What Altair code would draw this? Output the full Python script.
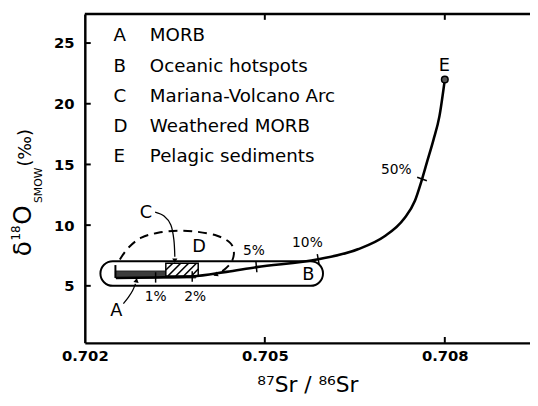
import altair as alt
import pandas as pd

FONT = "DejaVu Sans"

# ---------------- data ----------------
x_ticks = [0.702, 0.705, 0.708]
x_inner_ticks = [0.705, 0.708]
y_ticks = [5, 10, 15, 20, 25]

# mixing curve from A/B towards E (pelagic sediments)
curve_sr = [0.70252, 0.70318, 0.70379, 0.70436, 0.70486, 0.70589, 0.70655,
            0.70699, 0.70732, 0.70750, 0.70761, 0.70771, 0.70781, 0.70791, 0.70800]
curve_o = [5.65, 5.69, 5.77, 6.15, 6.54, 7.19, 8.01, 9.06, 10.52, 11.98,
           13.61, 15.31, 17.01, 18.96, 22.0]

# percentage marks along the curve
pct_text = ["1%", "2%", "5%", "10%", "50%"]
pct_sr = [0.70318, 0.70379, 0.70486, 0.70589, 0.70762]
pct_o = [5.69, 5.77, 6.54, 7.19, 13.80]
pct_angle = [90, 90, 85, 80, 20]
pct_label_sr = [0.70318, 0.70384, 0.70482, 0.70571, 0.70719]
pct_label_o = [4.11, 4.11, 7.85, 8.49, 14.50]

# field B (oceanic hotspots), rounded box
b_sr = [0.70226, 0.70597]
b_o = [5.0, 7.03]
# field A (MORB), dark bar
a_sr = [0.70251, 0.70385]
a_o = [5.65, 6.22]
a_edge_o = [5.65, 6.71]
# field C (Mariana arc), hatched box
c_sr = [0.70335, 0.70389]
c_o = [5.81, 6.86]
hatch_sr0 = [0.70335, 0.703385, 0.703516, 0.703648, 0.703779]
hatch_o0 = [6.30, 5.81, 5.81, 5.81, 5.81]
hatch_sr1 = [0.703467, 0.703598, 0.703730, 0.703861, 0.70389]
hatch_o1 = [6.86, 6.86, 6.86, 6.86, 6.38]

# field D (weathered MORB), dashed curve
d_sr = [0.702584, 0.70273, 0.702943, 0.703221, 0.703549, 0.703877, 0.704205,
        0.704418, 0.704484, 0.704451, 0.704336, 0.70421]
d_o = [7.17, 8.16, 8.97, 9.37, 9.54, 9.45, 9.13, 8.56, 7.83, 7.02, 6.38, 5.95]

# pointer arrows for A and C labels
arrow_a_sr = [0.702643, 0.702725, 0.702795, 0.702844]
arrow_a_o = [3.54, 4.05, 4.59, 5.16]
arrow_c_sr = [0.703172, 0.70332, 0.703434, 0.703484, 0.7035]
arrow_c_o = [11.07, 10.75, 10.02, 8.81, 7.40]
head_sr = [0.702858, 0.7035, 0.70419]
head_o = [5.40, 7.12, 5.93]
head_angle = [10, 180, 245]

# end member E
e_sr = [0.70800]
e_o = [22.0]

# field labels
lab_text = ["A", "B", "C", "D", "E"]
lab_sr = [0.702525, 0.705726, 0.703018, 0.703904, 0.707992]
lab_o = [2.90, 5.90, 11.01, 8.17, 23.1]

legend_letters = ["A", "B", "C", "D", "E"]
legend_names = ["MORB", "Oceanic hotspots", "Mariana-Volcano Arc",
                "Weathered MORB", "Pelagic sediments"]

# ---------------- chart ----------------
W, H = 452, 334
sx = alt.Scale(domain=[0.702, 0.70942], nice=False, zero=False)
sy = alt.Scale(domain=[0.3, 27.4], nice=False, zero=False)

xaxis = alt.Axis(values=x_ticks, format=".3f", ticks=False, grid=False,
                 domainColor="black", domainWidth=2.5, labelFlush=False,
                 labelFont=FONT, labelFontSize=15, labelFontWeight="bold",
                 labelColor="black", labelPadding=6,
                 title="⁸⁷Sr / ⁸⁶Sr", titleFont=FONT, titleFontSize=22,
                 titleFontWeight="normal", titleColor="black", titlePadding=11)
yaxis = alt.Axis(values=y_ticks, ticks=False, grid=False,
                 domainColor="black", domainWidth=2.5,
                 labelFont=FONT, labelFontSize=15, labelFontWeight="bold",
                 labelColor="black", labelPadding=11, title="")


def X(f="sr"):
    return alt.X(f"{f}:Q", scale=sx, axis=xaxis)


def Y(f="o"):
    return alt.Y(f"{f}:Q", scale=sy, axis=yaxis)


layers = []

# B rounded box
dfb = pd.DataFrame({"sr": [b_sr[0]], "sr2": [b_sr[1]], "o": [b_o[0]], "o2": [b_o[1]]})
layers.append(alt.Chart(dfb).mark_rect(fill="white", stroke="black", strokeWidth=2,
                                       cornerRadius=12.5).encode(
    x=X(), x2="sr2:Q", y=Y(), y2="o2:Q"))

# A dark bar
dfa = pd.DataFrame({"sr": [a_sr[0]], "sr2": [a_sr[1]], "o": [a_o[0]], "o2": [a_o[1]]})
layers.append(alt.Chart(dfa).mark_rect(fill="#3c3c3c", stroke="#222", strokeWidth=1).encode(
    x=X(), x2="sr2:Q", y=Y(), y2="o2:Q"))
dfae = pd.DataFrame({"sr": [a_sr[0]], "o": [a_edge_o[0]], "o2": [a_edge_o[1]]})
layers.append(alt.Chart(dfae).mark_rule(color="black", strokeWidth=2).encode(
    x=X(), y=Y(), y2="o2:Q"))

# C hatched box
dfc = pd.DataFrame({"sr": [c_sr[0]], "sr2": [c_sr[1]], "o": [c_o[0]], "o2": [c_o[1]]})
layers.append(alt.Chart(dfc).mark_rect(fill="white", stroke="black", strokeWidth=1.5).encode(
    x=X(), x2="sr2:Q", y=Y(), y2="o2:Q"))
dfh = pd.DataFrame({"sr": hatch_sr0, "o": hatch_o0, "sr2": hatch_sr1, "o2": hatch_o1})
layers.append(alt.Chart(dfh).mark_rule(color="black", strokeWidth=1.6).encode(
    x=X(), y=Y(), x2="sr2:Q", y2="o2:Q"))

# D dashed curve
dfd = pd.DataFrame({"sr": d_sr, "o": d_o, "i": list(range(len(d_sr)))})
layers.append(alt.Chart(dfd).mark_line(color="black", strokeWidth=2, strokeDash=[9, 6],
                                       interpolate="cardinal").encode(
    x=X(), y=Y(), order="i:Q"))

# mixing curve
dfm = pd.DataFrame({"sr": curve_sr, "o": curve_o})
layers.append(alt.Chart(dfm).mark_line(color="black", strokeWidth=2.6,
                                       interpolate="monotone").encode(x=X(), y=Y()))

# arrows
dfaa = pd.DataFrame({"sr": arrow_a_sr, "o": arrow_a_o, "i": list(range(len(arrow_a_sr)))})
layers.append(alt.Chart(dfaa).mark_line(color="black", strokeWidth=1.3,
                                        interpolate="cardinal").encode(x=X(), y=Y(), order="i:Q"))
dfca = pd.DataFrame({"sr": arrow_c_sr, "o": arrow_c_o, "i": list(range(len(arrow_c_sr)))})
layers.append(alt.Chart(dfca).mark_line(color="black", strokeWidth=1.3,
                                        interpolate="cardinal").encode(x=X(), y=Y(), order="i:Q"))
dfhd = pd.DataFrame({"sr": head_sr, "o": head_o, "ang": head_angle})
layers.append(alt.Chart(dfhd).mark_point(shape="triangle", filled=True, color="black",
                                         size=28, opacity=1).encode(
    x=X(), y=Y(), angle=alt.Angle("ang:Q", scale=None)))

# percentage ticks on curve
dfp = pd.DataFrame({"sr": pct_sr, "o": pct_o, "ang": pct_angle})
layers.append(alt.Chart(dfp).mark_point(shape="stroke", size=110, color="black",
                                        strokeWidth=1.5, opacity=1).encode(
    x=X(), y=Y(), angle=alt.Angle("ang:Q", scale=None)))
dfpl = pd.DataFrame({"sr": pct_label_sr, "o": pct_label_o, "t": pct_text})
layers.append(alt.Chart(dfpl).mark_text(font=FONT, fontSize=14, color="black",
                                        align="center", baseline="middle").encode(
    x=X(), y=Y(), text="t:N"))

# E end member
dfe = pd.DataFrame({"sr": e_sr, "o": e_o})
layers.append(alt.Chart(dfe).mark_point(shape="circle", filled=True, fill="#555",
                                        stroke="black", strokeWidth=1.5, size=45,
                                        opacity=1).encode(x=X(), y=Y()))

# field labels
dfl = pd.DataFrame({"sr": lab_sr, "o": lab_o, "t": lab_text})
layers.append(alt.Chart(dfl).mark_text(font=FONT, fontSize=18, color="black",
                                       align="center", baseline="middle").encode(
    x=X(), y=Y(), text="t:N"))

# inward ticks
dfyt = pd.DataFrame({"o": y_ticks})
layers.append(alt.Chart(dfyt).mark_rule(color="black", strokeWidth=2).encode(
    y=Y(), x=alt.value(0), x2=alt.value(6)))
dfxt = pd.DataFrame({"sr": x_inner_ticks})
layers.append(alt.Chart(dfxt).mark_rule(color="black", strokeWidth=2).encode(
    x=X(), y=alt.value(H), y2=alt.value(H - 6)))
layers.append(alt.Chart(dfxt).mark_rule(color="black", strokeWidth=2).encode(
    x=X(), y=alt.value(0), y2=alt.value(6)))
# top frame line
layers.append(alt.Chart(pd.DataFrame({"k": [0]})).mark_rule(color="black", strokeWidth=2.5).encode(
    x=alt.value(0), x2=alt.value(W), y=alt.value(0)))

# legend block
for i, (letter, name) in enumerate(zip(legend_letters, legend_names)):
    yy = 22 + i * 30.5
    dfl1 = pd.DataFrame({"t": [letter]})
    layers.append(alt.Chart(dfl1).mark_text(font=FONT, fontSize=18.5, color="black",
                                            align="left", baseline="middle").encode(
        x=alt.value(29), y=alt.value(yy), text="t:N"))
    dfl2 = pd.DataFrame({"t": [name]})
    layers.append(alt.Chart(dfl2).mark_text(font=FONT, fontSize=18.5, color="black",
                                            align="left", baseline="middle").encode(
        x=alt.value(66), y=alt.value(yy), text="t:N"))

# y axis title pieces (rotated): δ ¹⁸ O SMOW (‰)
ytitle = [("δ", 25, 31, 257), ("18", 12, 20, 241), ("O", 25, 31, 225),
          ("SMOW", 11, 43, 203), ("(‰)", 18, 31, 166)]
for txt, fs, bx, by in ytitle:
    dft = pd.DataFrame({"t": [txt]})
    layers.append(alt.Chart(dft).mark_text(font=FONT, fontSize=fs, color="black",
                                           angle=270, align="left",
                                           baseline="alphabetic").encode(
        x=alt.value(bx - 86), y=alt.value(by - 11), text="t:N"))

chart = alt.layer(*layers).properties(
    width=W, height=H,
    padding={"left": 78, "top": 3, "right": 0, "bottom": 56},
    autosize=alt.AutoSizeParams(type="none"),
    background="white",
).configure_view(stroke=None)

chart.save("out.html", embed_options={"renderer": "svg", "actions": False})
